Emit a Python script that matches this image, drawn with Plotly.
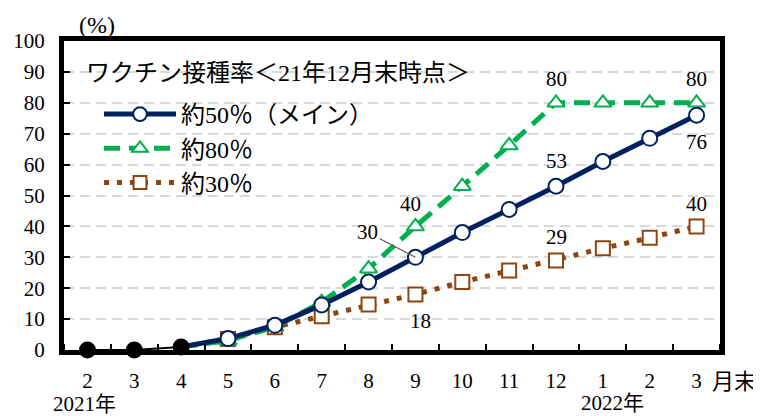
import plotly.graph_objects as go

# ---- data ----
month_labels = ["2", "3", "4", "5", "6", "7", "8", "9", "10", "11", "12", "1", "2", "3"]
actual_idx = [0, 1, 2]
actual_vals = [0, 0, 1]
proj_idx = list(range(2, 14))
main_vals = [1, 3.7, 8, 14.6, 22, 30, 38, 45.5, 53, 61, 68.5, 76]
high_vals = [1, 3, 7.5, 15.5, 26.3, 40, 53, 66.2, 80, 80, 80, 80]
low_vals = [1, 3.6, 7.4, 10.9, 14.7, 18, 22, 25.7, 29, 32.9, 36.3, 40]

NAVY = "#002060"
GREEN = "#00B050"
BROWN = "#8C4511"
FONT = "Liberation Serif, Times New Roman, Noto Sans CJK JP, serif"

# the page body has an 8px margin: figure coords = screen coords - 8
OFF = 8
W, H = 761, 416
L, T = 64 - OFF, 41 - OFF
R = W - (720 - OFF)
B = H - (350 - OFF)
PW, PH = W - L - R, H - T - B


def px(x):  # screen x -> paper
    return (x - OFF - L) / PW


def py(y):  # screen y -> paper
    return (H - B - (y - OFF)) / PH


fig = go.Figure()
fig.add_trace(go.Scatter(
    x=proj_idx, y=low_vals, mode="lines+markers", name="約30％",
    legendrank=3, legendgroup="c",
    line=dict(color=BROWN, width=5, dash="5px,8px"),
    marker=dict(symbol="square", size=[0] + [14] * 11, color="#ffffff",
                opacity=1, line=dict(color=BROWN, width=2)),
    cliponaxis=False,
))
fig.add_trace(go.Scatter(
    x=proj_idx, y=high_vals, mode="lines+markers", name="約80％",
    legendrank=2, legendgroup="b",
    line=dict(color=GREEN, width=5, dash="16px,9px"),
    marker=dict(symbol="triangle-up", size=[0] + [15] * 11, color="#ffffff",
                opacity=1, line=dict(color=GREEN, width=2)),
    cliponaxis=False,
))
fig.add_trace(go.Scatter(
    x=proj_idx, y=main_vals, mode="lines+markers", name="約50％（メイン）",
    legendrank=1, legendgroup="a",
    line=dict(color=NAVY, width=5),
    marker=dict(symbol="circle", size=[0] + [15] * 11, color="#ffffff",
                opacity=1, line=dict(color=NAVY, width=2)),
    cliponaxis=False,
))
fig.add_trace(go.Scatter(
    x=actual_idx, y=actual_vals, mode="lines+markers", showlegend=False,
    line=dict(color="black", width=2),
    marker=dict(symbol="circle", size=17, color="black"),
    cliponaxis=False,
))

fig.update_xaxes(
    range=[-0.5, 13.5], tickmode="array", tickvals=list(range(14)),
    ticktext=month_labels, ticks="", showgrid=False, zeroline=False,
    showline=True, linewidth=5, linecolor="black", mirror=True,
    automargin=False,
    tickfont=dict(family=FONT, size=21, color="black"),
    ticklabelstandoff=8,
    minor=dict(tickmode="linear", tick0=0.5, dtick=1, ticks="inside",
               ticklen=6, tickwidth=2, tickcolor="black", showgrid=False),
)
fig.update_yaxes(
    range=[0, 100], tickmode="linear", tick0=0, dtick=10,
    ticks="inside", ticklen=6, tickwidth=2, tickcolor="black",
    showgrid=True, gridcolor="#d9d9d9", gridwidth=2, griddash="10px,6px",
    zeroline=False, showline=True, linewidth=5, linecolor="black", mirror=True,
    automargin=False,
    tickfont=dict(family=FONT, size=21, color="black"),
    ticklabelstandoff=10,
)

ann = []
lab_font = dict(family=FONT, size=21, color="black")
yr_font = dict(family=FONT, size=21, color="black")
jp_font = dict(family=FONT, size=22, color="black")
big_font = dict(family=FONT, size=24, color="black")


def lab(x, y, text, dx=0, dy=0):
    ann.append(dict(x=x, y=y, xref="x", yref="y", text=text, showarrow=False,
                    xanchor="center", yanchor="middle",
                    xshift=dx, yshift=dy, font=lab_font))


def note(sx, sy, text, font, xanchor="center"):
    ann.append(dict(x=px(sx), y=py(sy), xref="paper", yref="paper", text=text,
                    showarrow=False, xanchor=xanchor, yanchor="middle",
                    font=font))


lab(10, 80, "80", 0, 24)
lab(13, 80, "80", 0, 24)
lab(13, 76, "76", 0, -27)
lab(10, 53, "53", 0, 25)
lab(7, 40, "40", -5, 22)
lab(10, 29, "29", 0, 23)
lab(7, 18, "18", 5, -27)
lab(13, 40, "40", 0, 22)
ann.append(dict(x=7, y=30, xref="x", yref="y", text="30", showarrow=True,
                arrowhead=0, arrowwidth=1.2, arrowcolor="#595959",
                ax=-48, ay=-25, font=lab_font, standoff=0))

note(97, 25, "(%)", big_font)
note(84, 404, "2021年", yr_font)
note(612, 403, "2022年", yr_font)
note(734, 381, "月末", jp_font)
note(84, 73, "ワクチン接種率＜21年12月末時点＞", big_font, xanchor="left")

fig.update_layout(
    width=W, height=H, margin=dict(l=L, r=R, t=T, b=B, autoexpand=False),
    paper_bgcolor="white", plot_bgcolor="white",
    annotations=ann,
    legend=dict(x=px(99), y=py(92), xanchor="left", yanchor="top",
                traceorder="grouped", tracegroupgap=0,
                itemwidth=72, bgcolor="rgba(0,0,0,0)",
                font=dict(family=FONT, size=24, color="black")),
    showlegend=True,
)

fig.write_html("out.html")
